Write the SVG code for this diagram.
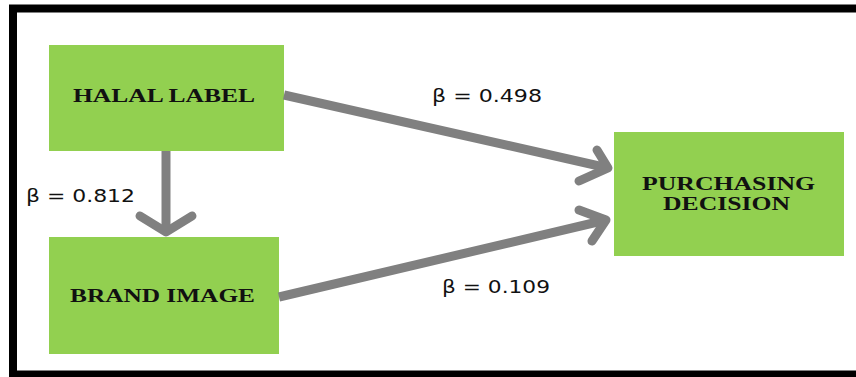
<svg xmlns="http://www.w3.org/2000/svg" width="856" height="377" viewBox="0 0 856 377">
  <style>
    .box { fill: #92d050; }
    .lbl { font-family: "Liberation Serif", "Times New Roman", serif; font-weight: bold; font-size: 19px; fill: #111; text-anchor: start; }
    .beta { font-family: "DejaVu Sans", Verdana, sans-serif; font-size: 17px; fill: #111; }
    .edge { fill: none; stroke: #808080; stroke-width: 9; stroke-linejoin: round; }
    .head { stroke-linecap: round; }
  </style>

  <rect width="856" height="377" fill="#ffffff"/>
  <!-- outer frame -->
  <rect x="13" y="8.5" width="900" height="366" fill="none" stroke="#000" stroke-width="8"/>

  <g id="halal-label">
    <rect class="box" x="49" y="45" width="235" height="106"/>
    <text class="lbl" x="73" y="102" textLength="182" lengthAdjust="spacingAndGlyphs">HALAL LABEL</text>
  </g>

  <g id="brand-image">
    <rect class="box" x="49" y="237" width="230" height="117"/>
    <text class="lbl" x="70" y="302" textLength="185" lengthAdjust="spacingAndGlyphs">BRAND IMAGE</text>
  </g>

  <g id="purchasing-decision">
    <rect class="box" x="614" y="132" width="230" height="124"/>
    <text class="lbl" x="642" y="190" textLength="173" lengthAdjust="spacingAndGlyphs">PURCHASING</text>
    <text class="lbl" x="663" y="210" textLength="127" lengthAdjust="spacingAndGlyphs">DECISION</text>
  </g>

  <g id="connectors">
    <!-- halal label -> brand image -->
    <path class="edge" d="M166 151 L166 231"/>
    <path class="edge head" d="M140 216 L166 232 L192 216"/>
    <!-- halal label -> purchasing decision -->
    <path class="edge" d="M284 95 L608 168"/>
    <path class="edge head" d="M597 150 L608 168 L579 181"/>
    <!-- brand image -> purchasing decision -->
    <path class="edge" d="M279 297 L606 220"/>
    <path class="edge head" d="M579 210 L606 220 L592 241"/>

    <text class="beta" x="26" y="202" textLength="109" lengthAdjust="spacingAndGlyphs">β = 0.812</text>
    <text class="beta" x="432" y="102" textLength="110" lengthAdjust="spacingAndGlyphs">β = 0.498</text>
    <text class="beta" x="442" y="293" textLength="108" lengthAdjust="spacingAndGlyphs">β = 0.109</text>
  </g>
</svg>
